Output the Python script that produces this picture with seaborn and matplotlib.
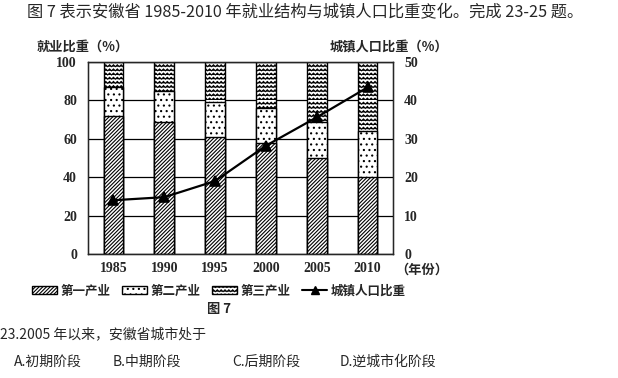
import matplotlib
matplotlib.use("Agg")
import matplotlib.pyplot as plt
import matplotlib.hatch as mhatch
from matplotlib.path import Path
from matplotlib.patches import Patch
from matplotlib.lines import Line2D
import numpy as np
import pandas as pd
import seaborn as sns

years = ["1985", "1990", "1995", "2000", "2005", "2010"]
primary = [72, 69, 61, 58, 50, 40]
secondary = [15, 16, 18, 18, 19, 24]
tertiary = [13, 15, 21, 24, 31, 36]
urban = [14, 14.8, 19, 28.2, 35.6, 43.4]

legend_labels = ["第一产业", "第二产业", "第三产业", "城镇人口比重"]


# matplotlib has no wavy hatch, so register a zigzag one for "~"
class ZigZagHatch(mhatch.HatchPatternBase):
    def __init__(self, hatch, density):
        self.num_rows = hatch.count("~") * density
        self.teeth = 26 if self.num_rows else 0
        self.num_vertices = self.num_rows * (2 * self.teeth + 1)

    def set_vertices_and_codes(self, vertices, codes):
        n = 2 * self.teeth + 1
        amp = 0.45 / max(self.num_rows, 1)
        i = 0
        for r in range(self.num_rows):
            y0 = r / self.num_rows
            for j in range(n):
                vertices[i] = (j / (n - 1), y0 + amp * (j % 2))
                codes[i] = Path.MOVETO if j == 0 else Path.LINETO
                i += 1


mhatch._hatch_types.append(ZigZagHatch)

sns.set_style("white")
plt.rcParams["font.family"] = ["Noto Sans CJK SC", "DejaVu Sans"]
plt.rcParams["hatch.linewidth"] = 0.8

df = pd.DataFrame({
    "year": years,
    "total": np.array(primary) + np.array(secondary) + np.array(tertiary),
    "first_two": np.array(primary) + np.array(secondary),
    "first": primary,
    "urban": urban,
})

fig = plt.figure(figsize=(6.18, 3.78), dpi=100)
ax = fig.add_axes([88 / 618, 1 - 254 / 378, 305 / 618, 192 / 378])

bar_kw = dict(color="white", edgecolor="black", linewidth=1.0, width=0.39, ax=ax, zorder=2)
sns.barplot(data=df, x="year", y="total", hatch="~~~~", **bar_kw)
sns.barplot(data=df, x="year", y="first_two", hatch="...", **bar_kw)
sns.barplot(data=df, x="year", y="first", hatch="/////////", **bar_kw)

ax.set_ylim(0, 100)
ax.set_xlim(-0.5, 5.5)
ax.set_yticks(range(0, 101, 20))
ax.yaxis.grid(True, color="black", linewidth=0.9)
ax.set_axisbelow(True)
ax.set_xlabel("")
ax.set_ylabel("")
for s in ax.spines.values():
    s.set_color("black")
    s.set_linewidth(1.0)
ax.tick_params(axis="y", length=0, pad=8)
ax.tick_params(axis="x", length=0, pad=6)
ax.set_xticks(np.arange(0.5, 5, 1), minor=True)
ax.tick_params(axis="x", which="minor", direction="in", length=3, width=0.8)
for lab in ax.get_xticklabels() + ax.get_yticklabels():
    lab.set_fontfamily("Liberation Serif")
    lab.set_fontweight("bold")
    lab.set_fontsize(10)

ax2 = ax.twinx()
sns.pointplot(data=df, x="year", y="urban", ax=ax2, color="black",
              markers="^", markersize=7, linewidth=1.6, zorder=5)
ax2.set_ylim(0, 50)
ax2.set_xlim(-0.5, 5.5)
ax2.set_yticks(range(0, 51, 10))
ax2.set_ylabel("")
ax2.set_xlabel("")
ax2.tick_params(axis="y", length=0, pad=8)
for lab in ax2.get_yticklabels():
    lab.set_fontfamily("Liberation Serif")
    lab.set_fontweight("bold")
    lab.set_fontsize(10)

fig.text(27 / 618, 1 - 13 / 378, "图 7 表示安徽省 1985-2010 年就业结构与城镇人口比重变化。完成 23-25 题。",
         fontsize=11.7, va="center", ha="left")
fig.text(37 / 618, 1 - 47 / 378, "就业比重（%）", fontsize=9.5, fontweight="bold", va="center")
fig.text(330 / 618, 1 - 47 / 378, "城镇人口比重（%）", fontsize=9.5, fontweight="bold", va="center")
fig.text(395 / 618, 1 - 270 / 378, "（年份）", fontsize=9.5, fontweight="bold", va="center")

handles = [
    Patch(facecolor="white", edgecolor="black", hatch="/////////"),
    Patch(facecolor="white", edgecolor="black", hatch="..."),
    Patch(facecolor="white", edgecolor="black", hatch="~~~~"),
    Line2D([], [], color="black", marker="^", markersize=6, linewidth=1.5),
]
fig.legend(handles, legend_labels, ncol=4, loc="center", bbox_to_anchor=(219 / 618, 1 - 291 / 378),
           frameon=False, handlelength=2.0, handleheight=0.6, handletextpad=0.3, columnspacing=0.9,
           prop={"family": "Noto Sans CJK SC", "weight": "bold", "size": 9})
fig.text(219 / 618, 1 - 309 / 378, "图 7", fontsize=9.5, fontweight="bold", ha="center", va="center")

fig.text(0, 1 - 334 / 378, "23.2005 年以来，安徽省城市处于", fontsize=10, va="center")
for x, t in [(14, "A.初期阶段"), (113, "B.中期阶段"), (232, "C.后期阶段"), (340, "D.逆城市化阶段")]:
    fig.text(x / 618, 1 - 362 / 378, t, fontsize=10, va="center")

fig.savefig("out.png", dpi=100, facecolor="white")
